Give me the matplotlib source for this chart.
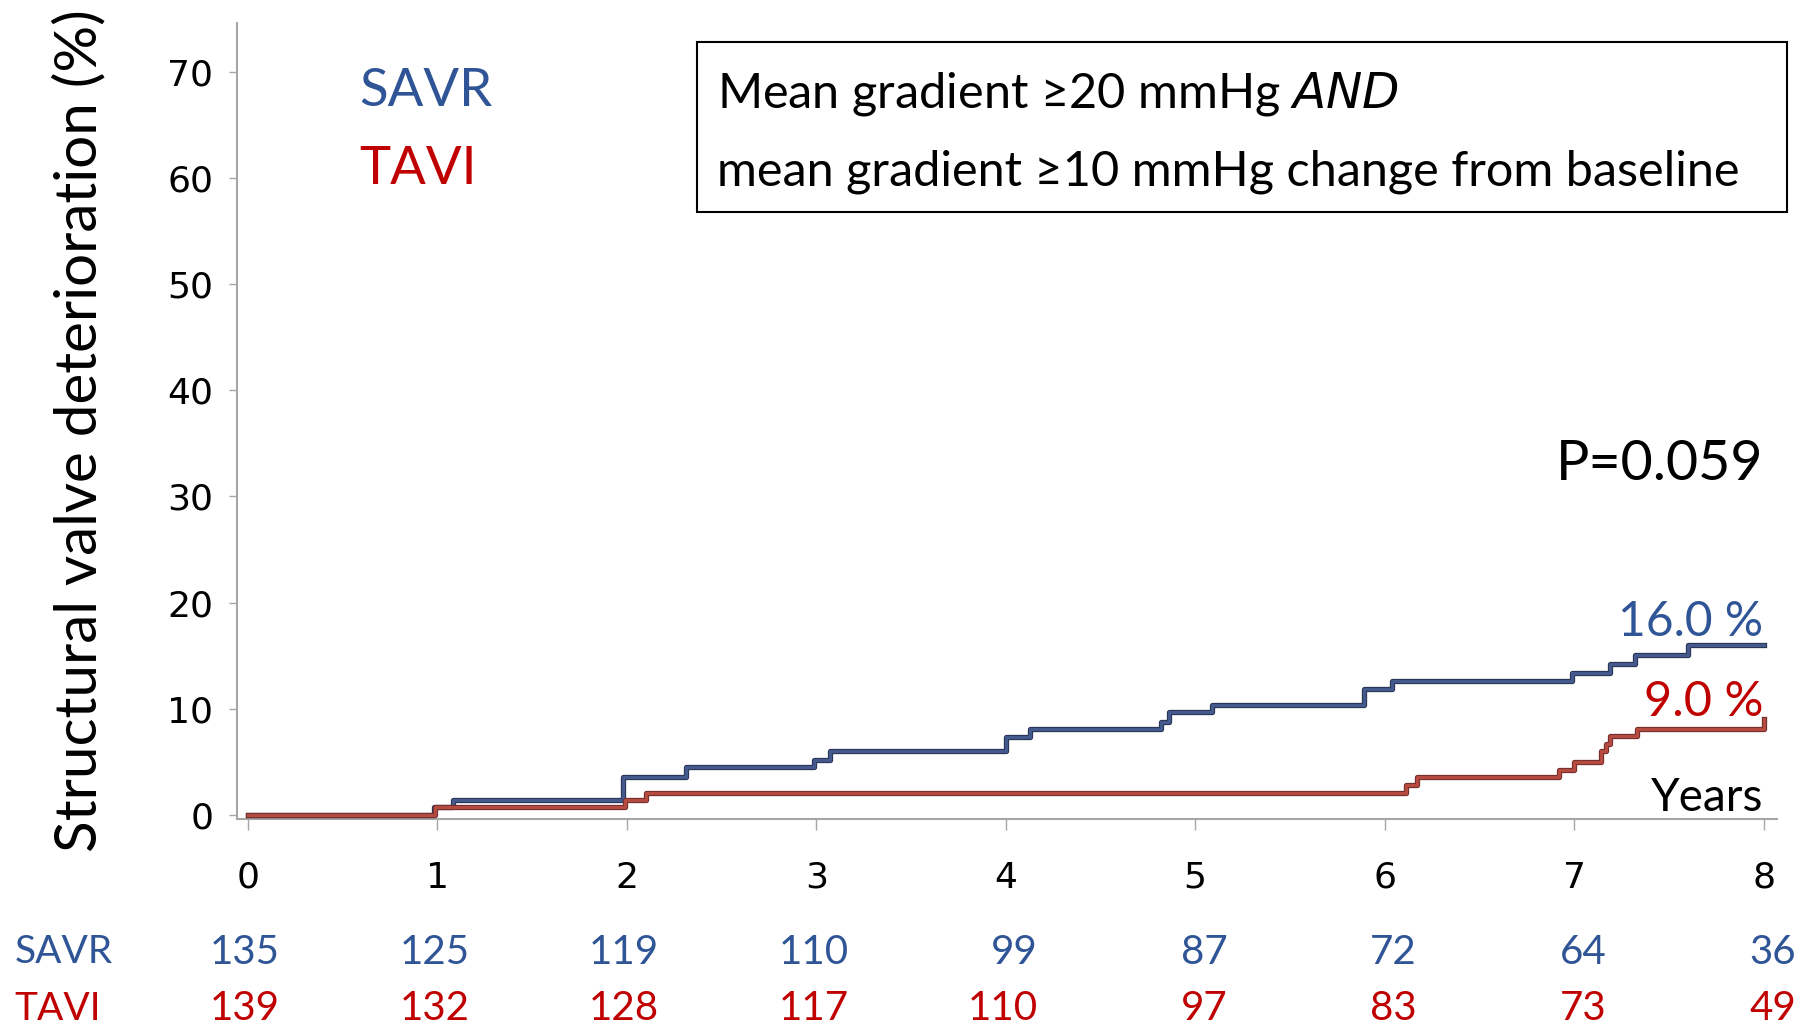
import matplotlib
matplotlib.use("Agg")
import matplotlib.pyplot as plt
import matplotlib.patheffects as pe
from matplotlib.patches import Rectangle
from matplotlib.transforms import blended_transform_factory

# cumulative incidence of structural valve deterioration (%)
SAVR_TIME = [0, 0.98, 1.08, 1.98, 2.31, 2.99, 3.07, 4.0, 4.13, 4.82, 4.86, 5.09,
             5.89, 6.04, 6.99, 7.19, 7.32, 7.6, 8.0]
SAVR_PCT = [0, 0.7, 1.4, 3.6, 4.5, 5.2, 6.0, 7.3, 8.1, 8.8, 9.7, 10.4,
            11.9, 12.6, 13.4, 14.2, 15.1, 16.0, 16.0]

TAVI_TIME = [0, 0.99, 1.99, 2.1, 6.11, 6.17, 6.92, 7.0, 7.14, 7.17, 7.19, 7.33, 8.0]
TAVI_PCT = [0, 0.7, 1.4, 2.1, 2.8, 3.55, 4.2, 5.0, 6.0, 6.7, 7.4, 8.1, 9.0]

# number at risk
YEARS = [0, 1, 2, 3, 4, 5, 6, 7, 8]
SAVR_RISK = [135, 125, 119, 110, 99, 87, 72, 64, 36]
TAVI_RISK = [139, 132, 128, 117, 110, 97, 83, 73, 49]

Y_TICKS = [0, 10, 20, 30, 40, 50, 60, 70]

BLUE_TXT = "#2f5597"
RED_TXT = "#c00000"
BLUE_LINE = "#44598c"
RED_LINE = "#b54a40"

TXT_FONT = "Lato"

fig = plt.figure(figsize=(17.99, 10.26), dpi=100)
ax = fig.add_axes([0.1317, 0.2018, 0.856, 0.7758])

ax.plot(SAVR_TIME, SAVR_PCT, drawstyle="steps-post", color=BLUE_LINE, lw=2.4,
        path_effects=[pe.Stroke(linewidth=3.8, foreground="#27314f"), pe.Normal()], zorder=3)
ax.plot(TAVI_TIME, TAVI_PCT, drawstyle="steps-post", color=RED_LINE, lw=2.4,
        path_effects=[pe.Stroke(linewidth=3.8, foreground="#6e2a28"), pe.Normal()], zorder=3)

ax.set_xlim(-0.058, 8.07)
ax.set_ylim(-0.38, 74.6)
ax.set_xticks(YEARS)
ax.set_yticks(Y_TICKS)
ax.tick_params(axis="both", colors="#a6a6a6", labelcolor="black", labelsize=26,
               length=8, width=1)
ax.tick_params(axis="x", pad=22)
ax.tick_params(axis="y", pad=11, length=6)
for lab in ax.get_xticklabels() + ax.get_yticklabels():
    lab.set_family("DejaVu Sans")

for s in ["top", "right"]:
    ax.spines[s].set_visible(False)
for s in ["left", "bottom"]:
    ax.spines[s].set_color("#a6a6a6")
    ax.spines[s].set_linewidth(1.5)

# y label: a narrow face is closer to the original, Lato if it is missing
fig.text(0.044, 0.58, "Structural valve deterioration (%)", rotation=90,
         fontsize=42, family=["Liberation Sans Narrow", TXT_FONT],
         ha="center", va="center")

# legend-like labels
ax.text(0.586, 68.1, "SAVR", color=BLUE_TXT, fontsize=38, family=TXT_FONT, va="center")
ax.text(0.586, 60.8, "TAVI", color=RED_TXT, fontsize=38, family=TXT_FONT, va="center")

# definition box
ax.add_patch(Rectangle((0.2985, 0.7623), 0.708, 0.2132, transform=ax.transAxes,
                       fc="white", ec="black", lw=1.5, clip_on=False, zorder=4))
ax.text(0.3117, 0.911, "Mean gradient \u226520 mmHg $\\it{AND}$", transform=ax.transAxes,
        fontsize=35, family=TXT_FONT, va="center", ha="left",
        math_fontfamily="dejavusans", zorder=5)
ax.text(0.3117, 0.813, "mean gradient \u226510 mmHg change from baseline", transform=ax.transAxes,
        fontsize=35, family=TXT_FONT, va="center", ha="left", zorder=5)

ax.text(8.0, 33.0, "P=0.059", fontsize=40, family=TXT_FONT, ha="right", va="center")
ax.text(8.0, 18.2, "16.0 %", fontsize=34.5, family=TXT_FONT, color=BLUE_TXT, ha="right", va="center")
ax.text(8.0, 10.6, "9.0 %", fontsize=35, family=TXT_FONT, color=RED_TXT, ha="right", va="center")
ax.text(8.0, 1.6, "Years", fontsize=33, family=TXT_FONT, ha="right", va="center")

# number at risk table below the axis
tr = blended_transform_factory(ax.transData, fig.transFigure)
fig.text(0.008, 0.072, "SAVR", color=BLUE_TXT, fontsize=28, family=TXT_FONT, va="center")
fig.text(0.008, 0.017, "TAVI", color=RED_TXT, fontsize=28, family=TXT_FONT, va="center")
for yr, s, t in zip(YEARS, SAVR_RISK, TAVI_RISK):
    ax.text(yr + 0.17, 0.072, str(s), transform=tr, color=BLUE_TXT, fontsize=29,
            family=TXT_FONT, ha="right", va="center")
    ax.text(yr + 0.17, 0.017, str(t), transform=tr, color=RED_TXT, fontsize=29,
            family=TXT_FONT, ha="right", va="center")

fig.savefig("out.png", dpi=100)
